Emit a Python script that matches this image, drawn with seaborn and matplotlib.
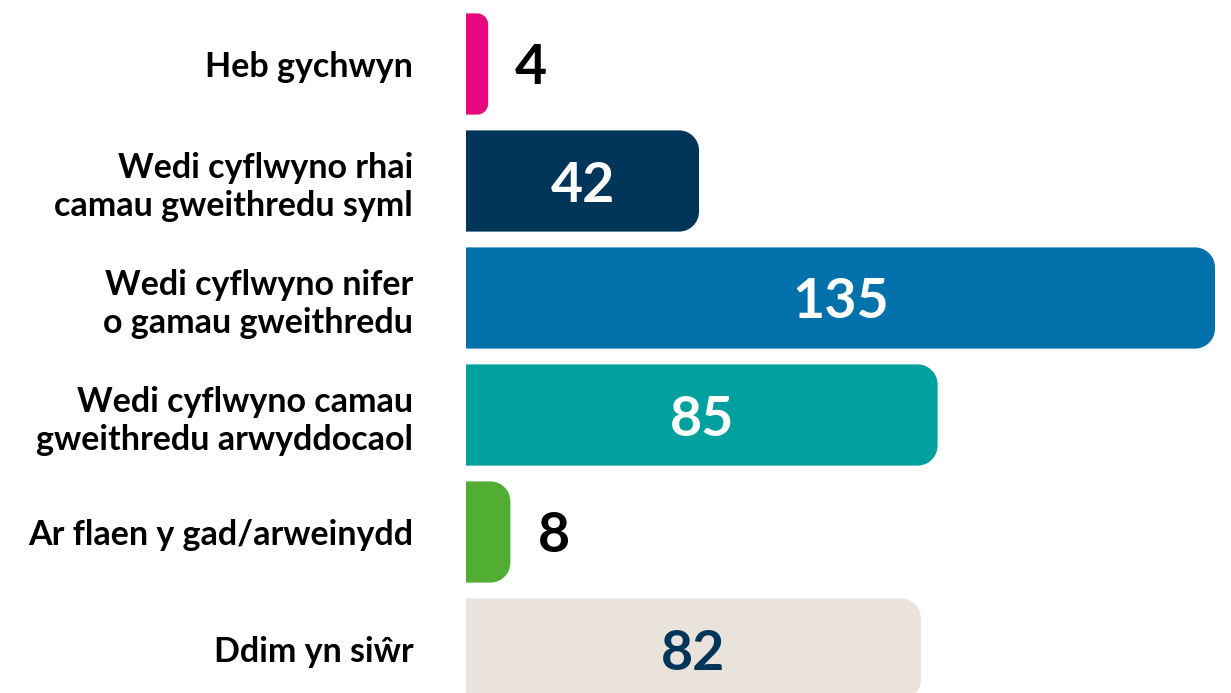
import matplotlib
matplotlib.use("Agg")
import matplotlib.pyplot as plt
from matplotlib.path import Path
from matplotlib.patches import PathPatch
import seaborn as sns
import pandas as pd

# Data
categories = [
    "Heb gychwyn",
    "Wedi cyflwyno rhai\ncamau gweithredu syml",
    "Wedi cyflwyno nifer\no gamau gweithredu",
    "Wedi cyflwyno camau\ngweithredu arwyddocaol",
    "Ar flaen y gad/arweinydd",
    "Ddim yn siŵr",
]
values = [4, 42, 135, 85, 8, 82]
bar_colors = ["#E6097E", "#00355A", "#0071AA", "#00A09F", "#52AE32", "#EAE3DC"]
text_colors = ["#000000", "#FFFFFF", "#FFFFFF", "#FFFFFF", "#000000", "#00355A"]

df = pd.DataFrame({"category": categories, "value": values})

sns.set_style("white")
plt.rcParams["font.family"] = ["Lato", "DejaVu Sans"]

W, H = 1231, 693
fig = plt.figure(figsize=(W / 100, H / 100), dpi=100)
ax_left, ax_right = 466, 1215
ax = fig.add_axes([ax_left / W, 0, (ax_right - ax_left) / W, 1])

sns.barplot(data=df, x="value", y="category", hue="category",
            palette=bar_colors, legend=False, width=0.865, ax=ax,
            saturation=1)

ax.set_xlim(0, max(values))
step = 117.0
top0 = 64.0
ax.set_ylim((H - top0) / step, -top0 / step)

# pixel scales
px_per_x = (ax_right - ax_left) / max(values)
px_per_y = step


def rounded_right(x0, y0, w, h, rpx):
    r = min(rpx, w * px_per_x / 2, h * px_per_y / 2)
    rx = r / px_per_x
    ry = r / px_per_y
    k = 0.5523
    x1 = x0 + w
    y1 = y0 + h
    verts = [
        (x0, y0),
        (x1 - rx, y0),
        (x1 - rx + k * rx, y0), (x1, y0 + ry - k * ry), (x1, y0 + ry),
        (x1, y1 - ry),
        (x1, y1 - ry + k * ry), (x1 - rx + k * rx, y1), (x1 - rx, y1),
        (x0, y1),
        (x0, y0),
    ]
    codes = [Path.MOVETO, Path.LINETO,
             Path.CURVE4, Path.CURVE4, Path.CURVE4,
             Path.LINETO,
             Path.CURVE4, Path.CURVE4, Path.CURVE4,
             Path.LINETO, Path.CLOSEPOLY]
    return Path(verts, codes)


bars = list(ax.patches)
for p in bars:
    x0, y0, w, h = p.get_x(), p.get_y(), p.get_width(), p.get_height()
    color = p.get_facecolor()
    p.set_visible(False)
    ax.add_patch(PathPatch(rounded_right(x0, y0, w, h, 20), facecolor=color,
                           edgecolor="none", clip_on=False))

for i, (v, tc) in enumerate(zip(values, text_colors)):
    if v * px_per_x > 60:
        ax.text(v / 2, i, str(v), ha="center", va="center_baseline",
                fontsize=40, fontweight="bold", color=tc)
    else:
        ax.text(v + 27 / px_per_x, i, str(v), ha="left", va="center_baseline",
                fontsize=40, fontweight="bold", color=tc)

ax.set_xlabel("")
ax.set_ylabel("")
ax.set_xticks([])
ax.tick_params(axis="y", length=0, pad=38)
for lab in ax.get_yticklabels():
    lab.set_fontsize(24.5)
    lab.set_fontweight("bold")
    lab.set_color("#000000")
    lab.set_linespacing(1.22)
for s in ax.spines.values():
    s.set_visible(False)

fig.savefig("out.png", dpi=100)
